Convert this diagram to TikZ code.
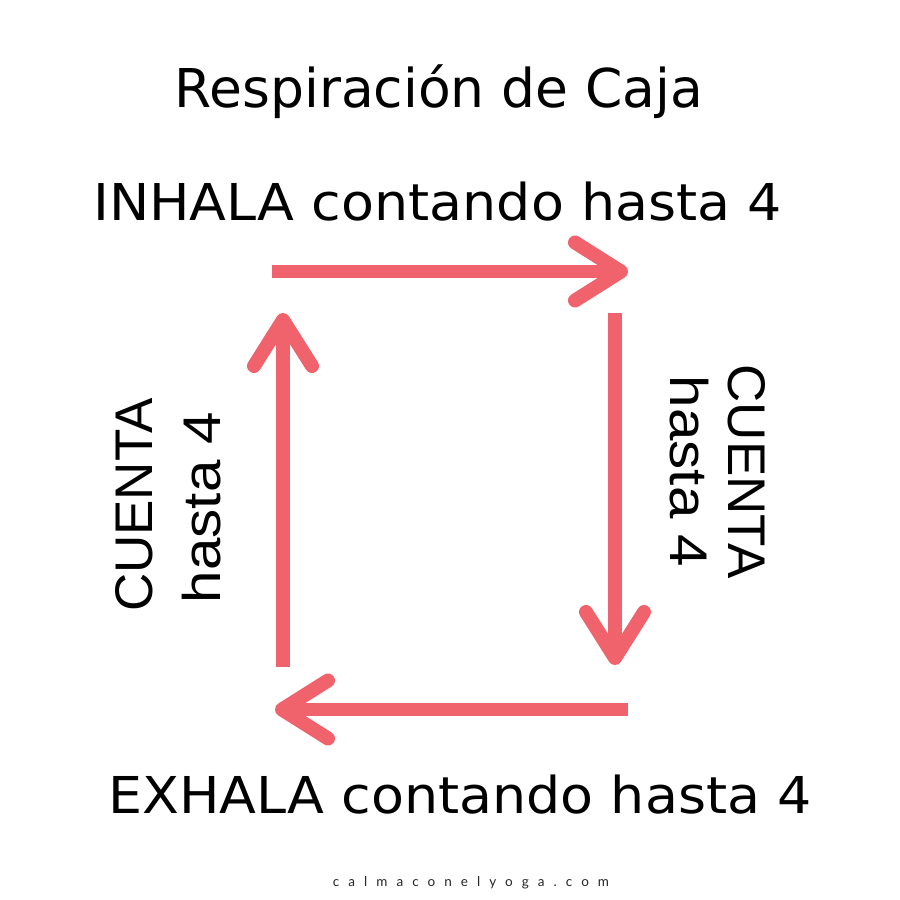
\documentclass[tikz,border=0pt]{standalone}
\usepackage{fontspec}
\usetikzlibrary{calc}
\newfontfamily\dvfont{DejaVu Sans}
\newfontfamily\dvwide[FakeStretch=1.06]{DejaVu Sans}
\newfontfamily\libfont{Liberation Sans}
\newfontfamily\libwide[FakeStretch=1.1]{Liberation Sans}
\newfontfamily\footfont[LetterSpace=67]{Lato}
\definecolor{pinkred}{RGB}{240,98,108}
\tikzset{
  shaft/.style={draw=pinkred, line width=13.5pt, line cap=butt},
  head/.style={draw=pinkred, line width=14pt, line cap=round, line join=round},
  bigtext/.style={inner sep=0pt, anchor=base, font=\dvwide\fontsize{50.8}{56}\selectfont},
  sidetext/.style={inner sep=0pt, anchor=base, font=\libfont\fontsize{53}{58}\selectfont},
  sidewide/.style={inner sep=0pt, anchor=base, font=\libwide\fontsize{53}{58}\selectfont},
}
\begin{document}
\begin{tikzpicture}[x=1pt,y=-1pt]
\useasboundingbox[fill=white] (0,0) rectangle (900,900);

% texts
\node[inner sep=0pt, anchor=base, font=\dvfont\fontsize{53.5}{60}\selectfont] (title) at (439,107) {Respiración de Caja};
\node[bigtext] (inhala) at (437.5,220) {INHALA contando hasta 4};
\node[bigtext] (exhala) at (460,813) {EXHALA contando hasta 4};
\node[sidetext, rotate=90] (lc) at (152,505) {CUENTA};
\node[sidewide, rotate=90] (lh) at (220,507.5) {hasta 4};
\node[sidetext, rotate=-90] (rc) at (728,471.5) {CUENTA};
\node[sidewide, rotate=-90] (rh) at (670,471.5) {hasta 4};
\node[inner sep=0pt, anchor=base, font=\footfont\fontsize{13.5}{15}\selectfont, text=black!85] (foot) at (471,886) {calmaconelyoga.com};

% top arrow
\coordinate (ta) at (272,271.5);
\coordinate (tb) at (621,271.5);
\draw[shaft] (ta) -- ($(tb)+(-6,0)$);
\draw[head] ($(tb)+(-46,-29)$) -- (tb) -- ($(tb)+(-46,29)$);

% right arrow
\coordinate (ra) at (615,313);
\coordinate (rb) at (615,658);
\draw[shaft] (ra) -- ($(rb)+(0,-6)$);
\draw[head] ($(rb)+(-29,-46)$) -- (rb) -- ($(rb)+(29,-46)$);

% bottom arrow
\coordinate (ba) at (628,709.5);
\coordinate (bb) at (282,709.5);
\draw[shaft] (ba) -- ($(bb)+(6,0)$);
\draw[head] ($(bb)+(46,-29)$) -- (bb) -- ($(bb)+(46,29)$);

% left arrow
\coordinate (la) at (283,667);
\coordinate (lb) at (283,320);
\draw[shaft] (la) -- ($(lb)+(0,6)$);
\draw[head] ($(lb)+(-29,46)$) -- (lb) -- ($(lb)+(29,46)$);
\end{tikzpicture}
\end{document}
